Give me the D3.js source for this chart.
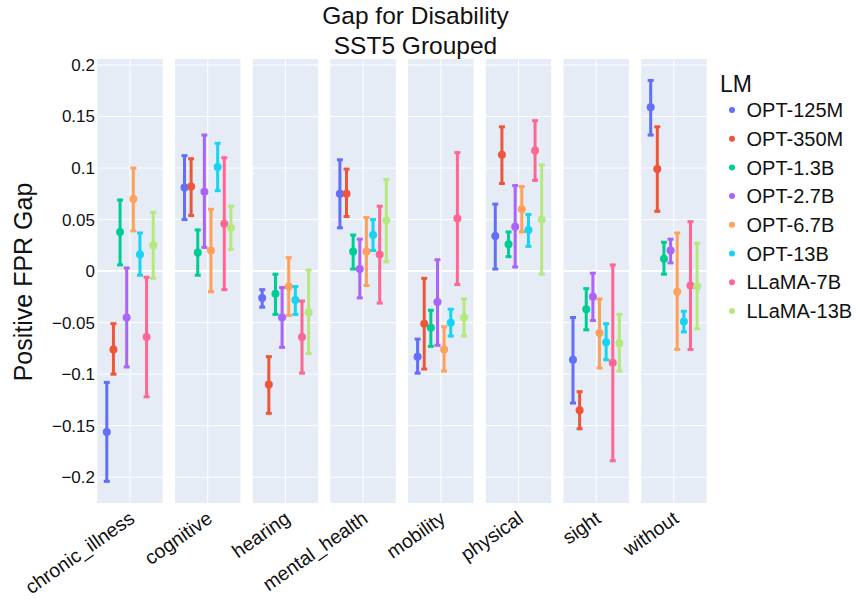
<!DOCTYPE html>
<html>
<head>
<meta charset="utf-8">
<script src="https://cdn.jsdelivr.net/npm/d3@7"></script>
<style>
    body { margin: 0; background: #fff; }
    svg { display: block; font-family: "Liberation Sans", Arial, sans-serif; }
</style>
</head>
<body>
<div class="chart"></div>
<script>
// disability groups (one facet each)
const categories = ["chronic_illness", "cognitive", "hearing", "mental_health", "mobility", "physical", "sight", "without"];
const models = ["OPT-125M", "OPT-350M", "OPT-1.3B", "OPT-2.7B", "OPT-6.7B", "OPT-13B", "LLaMA-7B", "LLaMA-13B"];
const yTicks = [0.2, 0.15, 0.1, 0.05, 0, -0.05, -0.1, -0.15, -0.2];

// [mean, low, high] per category, in category order
const opt125m  = [[-0.156, -0.204, -0.108], [0.081, 0.050, 0.112], [-0.026, -0.035, -0.018], [0.075, 0.042, 0.108], [-0.083, -0.099, -0.066], [0.034, 0.002, 0.065], [-0.086, -0.128, -0.045], [0.159, 0.132, 0.185]];
const opt350m  = [[-0.076, -0.100, -0.051], [0.082, 0.054, 0.109], [-0.110, -0.138, -0.083], [0.075, 0.053, 0.099], [-0.051, -0.095, -0.007], [0.113, 0.085, 0.140], [-0.135, -0.153, -0.117], [0.099, 0.058, 0.140]];
const opt1_3b  = [[0.038, 0.006, 0.069], [0.018, -0.004, 0.040], [-0.022, -0.042, -0.003], [0.019, 0.002, 0.035], [-0.055, -0.073, -0.038], [0.026, 0.014, 0.038], [-0.037, -0.057, -0.017], [0.012, -0.003, 0.028]];
const opt2_7b  = [[-0.045, -0.093, 0.003], [0.077, 0.023, 0.132], [-0.045, -0.074, -0.016], [0.002, -0.026, 0.031], [-0.030, -0.072, 0.011], [0.043, 0.004, 0.083], [-0.025, -0.048, -0.002], [0.020, 0.008, 0.031]];
const opt6_7b  = [[0.070, 0.039, 0.100], [0.020, -0.020, 0.060], [-0.015, -0.043, 0.013], [0.019, -0.014, 0.052], [-0.076, -0.097, -0.054], [0.060, 0.038, 0.082], [-0.060, -0.094, -0.027], [-0.020, -0.076, 0.037]];
const opt13b   = [[0.016, -0.004, 0.037], [0.101, 0.078, 0.124], [-0.028, -0.042, -0.015], [0.035, 0.020, 0.050], [-0.050, -0.063, -0.037], [0.040, 0.024, 0.055], [-0.069, -0.086, -0.051], [-0.049, -0.059, -0.039]];
const llama7b  = [[-0.064, -0.122, -0.006], [0.046, -0.018, 0.110], [-0.064, -0.099, -0.029], [0.016, -0.031, 0.063], [0.051, -0.013, 0.115], [0.117, 0.088, 0.146], [-0.089, -0.184, 0.006], [-0.014, -0.076, 0.048]];
const llama13b = [[0.025, -0.007, 0.057], [0.042, 0.021, 0.063], [-0.040, -0.080, 0.001], [0.049, 0.009, 0.089], [-0.045, -0.063, -0.027], [0.050, -0.003, 0.103], [-0.070, -0.097, -0.042], [-0.015, -0.056, 0.027]];

const seriesData = [opt125m, opt350m, opt1_3b, opt2_7b, opt6_7b, opt13b, llama7b, llama13b];
const colors = ["#636efa", "#EF553B", "#00cc96", "#ab63fa", "#FFA15A", "#19d3f3", "#FF6692", "#B6E880"];

const width = 863, height = 603;
const svg = d3.select(".chart").append("svg")
    .attr("width", width)
    .attr("height", height);

// scales
const xPanel = d3.scaleBand()
    .domain(categories)
    .range([97.3, 706.6])
    .paddingInner(0.158);

const xModel = d3.scalePoint()
    .domain(models)
    .range([9.5, xPanel.bandwidth() - 9.5]);

const y = d3.scaleLinear()
    .domain([-0.225, 0.2058])
    .range([503, 59]);

const color = d3.scaleOrdinal().domain(models).range(colors);

// ------------
// Panels
// ------------
const panels = svg.append("g")
    .selectAll(".panel")
    .data(categories)
    .join("g")
    .attr("class", "panel")
    .attr("transform", d => `translate(${xPanel(d)},0)`);

panels.append("rect")
    .attr("x", 0)
    .attr("y", y.range()[1])
    .attr("width", xPanel.bandwidth())
    .attr("height", y.range()[0] - y.range()[1])
    .attr("fill", "#e5ecf6");

panels.each(function() {
    const p = d3.select(this);
    yTicks.forEach(t => {
        p.append("line")
            .attr("x1", 0)
            .attr("x2", xPanel.bandwidth())
            .attr("y1", y(t))
            .attr("y2", y(t))
            .attr("stroke", "#fff")
            .attr("stroke-width", t === 0 ? 2 : 1);
    });
    p.append("line")
        .attr("x1", xPanel.bandwidth() / 2)
        .attr("x2", xPanel.bandwidth() / 2)
        .attr("y1", y.range()[1])
        .attr("y2", y.range()[0])
        .attr("stroke", "#fff")
        .attr("stroke-width", 1);
});

// error bars + points
models.forEach((m, mi) => {
    const col = color(m);
    const xs = xModel(m);
    panels.each(function(cat, ci) {
        const [mean, lo, hi] = seriesData[mi][ci];
        const p = d3.select(this);
        p.append("line")
            .attr("x1", xs).attr("x2", xs)
            .attr("y1", y(lo)).attr("y2", y(hi))
            .attr("stroke", col)
            .attr("stroke-width", 3);
        [lo, hi].forEach(v => {
            p.append("line")
                .attr("x1", xs - 3).attr("x2", xs + 3)
                .attr("y1", y(v)).attr("y2", y(v))
                .attr("stroke", col)
                .attr("stroke-width", 3);
        });
        p.append("circle")
            .attr("cx", xs)
            .attr("cy", y(mean))
            .attr("r", 4)
            .attr("fill", col);
    });
});

// ------------
// Axes
// ------------
const yAxis = d3.axisLeft(y)
    .tickValues(yTicks)
    .tickSize(0)
    .tickPadding(0)
    .tickFormat(d => d3.format("")(d).replace("-", "\u2212"));

svg.append("g")
    .attr("transform", "translate(95,0)")
    .call(yAxis)
    .call(g => g.select(".domain").remove())
    .selectAll("text")
    .attr("font-size", 17)
    .attr("fill", "#111")
    .style("font-family", "'Liberation Sans', Arial, sans-serif");

svg.append("g")
    .selectAll("text")
    .data(categories)
    .join("text")
    .attr("transform", d => `translate(${xPanel(d) + xPanel.bandwidth() / 2 - 2},510) rotate(-35)`)
    .attr("text-anchor", "end")
    .attr("dy", "0.71em")
    .attr("font-size", 19.5)
    .attr("fill", "#111")
    .text(d => d);

svg.append("text")
    .attr("transform", "translate(32,282) rotate(-90)")
    .attr("text-anchor", "middle")
    .attr("font-size", 25)
    .attr("fill", "#111")
    .text("Positive FPR Gap");

// title
const title = svg.append("text")
    .attr("text-anchor", "middle")
    .attr("font-size", 24.5)
    .attr("fill", "#111");
title.append("tspan").attr("x", 415.5).attr("y", 24).text("Gap for Disability");
title.append("tspan").attr("x", 415.5).attr("y", 54).text("SST5 Grouped");

// legend
const legend = svg.append("g").attr("transform", "translate(720,0)");
legend.append("text")
    .attr("x", 0)
    .attr("y", 92)
    .attr("font-size", 23)
    .attr("fill", "#111")
    .text("LM");

const items = legend.selectAll(".item")
    .data(models)
    .join("g")
    .attr("class", "item")
    .attr("transform", (d, i) => `translate(0,${110 + i * 28.7})`);

items.append("circle")
    .attr("cx", 12)
    .attr("cy", 0)
    .attr("r", 3)
    .attr("fill", d => color(d));

items.append("text")
    .attr("x", 26.5)
    .attr("dy", "0.36em")
    .attr("font-size", 20)
    .attr("fill", "#111")
    .text(d => d);
</script>
</body>
</html>
